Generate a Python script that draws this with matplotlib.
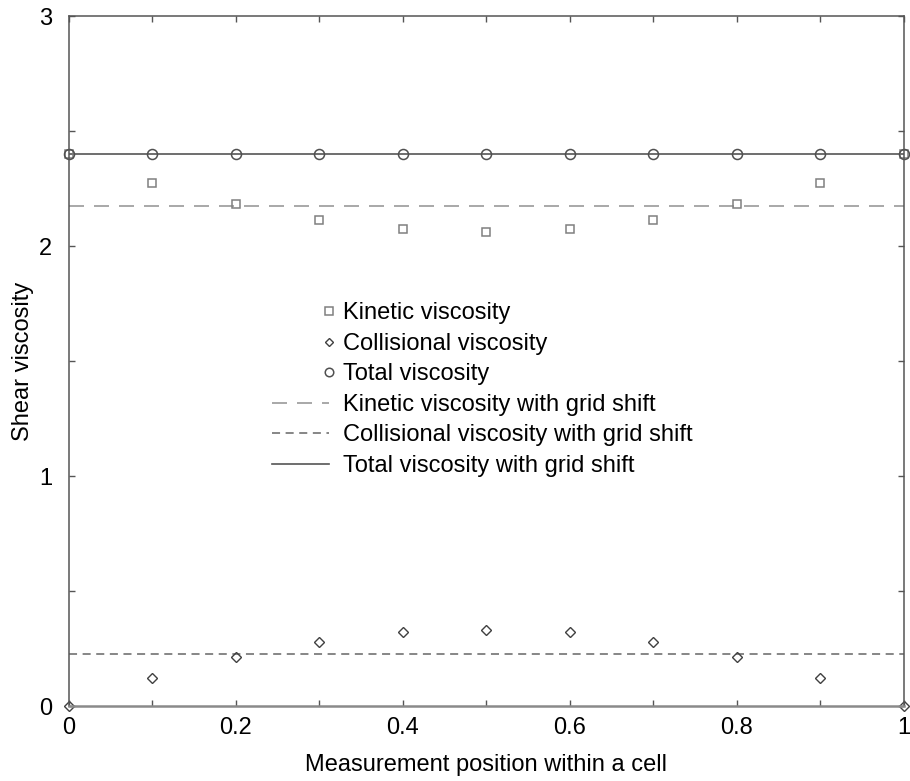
#!/usr/bin/env python3

import matplotlib
matplotlib.use('Agg')
import matplotlib.pyplot as plt
from matplotlib.legend_handler import HandlerLine2D
import numpy as np

plt.rcParams['font.family'] = ['Liberation Sans', 'DejaVu Sans']
plt.rcParams['font.size'] = 17
plt.rcParams['lines.scale_dashes'] = False

# measurement positions within a cell
position = [0.0, 0.1, 0.2, 0.3, 0.4, 0.5, 0.6, 0.7, 0.8, 0.9, 1.0]

kinetic = [2.40, 2.275, 2.183, 2.113, 2.074, 2.062, 2.074, 2.113, 2.183, 2.275, 2.40]
collisional = [0.0, 0.122, 0.213, 0.280, 0.320, 0.332, 0.320, 0.280, 0.213, 0.122, 0.0]
total = [2.40, 2.40, 2.40, 2.40, 2.40, 2.40, 2.40, 2.40, 2.40, 2.40, 2.40]

# grid shift values (constant over the cell)
kinetic_shift = 2.174
collisional_shift = 0.226
total_shift = 2.40

LABELS = [
    "Kinetic viscosity",
    "Collisional viscosity",
    "Total viscosity",
    "Kinetic viscosity with grid shift",
    "Collisional viscosity with grid shift",
    "Total viscosity with grid shift",
]

AXIS_GRAY = '#555555'


class RightMarkerHandler(HandlerLine2D):
    # gnuplot style: point sample sits at the right end of the key sample
    def get_numpoints(self, legend):
        return 2

    def get_xdata(self, legend, xdescent, ydescent, width, height, fontsize):
        xr = np.array([-xdescent + width])
        return xr, xr


fig = plt.figure(figsize=(9.10, 7.81), dpi=100)
ax = fig.add_axes([0.0758, 0.096, 0.9176, 0.8835])

x_line = [0, 1]

l_kin_shift, = ax.plot(x_line, [kinetic_shift] * 2, color='#999999', lw=1.2,
                       dashes=(10.8, 7.2), label=LABELS[3])
l_col_shift, = ax.plot(x_line, [collisional_shift] * 2, color='#666666', lw=1.1,
                       dashes=(5.8, 4.0), label=LABELS[4])
l_tot_shift, = ax.plot(x_line, [total_shift] * 2, color='#555555', lw=1.2,
                       label=LABELS[5])

p_kin, = ax.plot(position, kinetic, ls='none', marker='s', ms=6.0, mfc='none',
                 mec='#808080', mew=1.1, label=LABELS[0], clip_on=False)
p_col, = ax.plot(position, collisional, ls='none', marker='D', ms=5.0, mfc='none',
                 mec='#404040', mew=1.0, label=LABELS[1], clip_on=False)
p_tot, = ax.plot(position, total, ls='none', marker='o', ms=7.2, mfc='none',
                 mec='#505050', mew=1.1, label=LABELS[2], clip_on=False)

ax.set_xlim(0, 1)
ax.set_ylim(0, 3)
ax.set_xticks(np.arange(0, 1.01, 0.2))
ax.set_xticks(np.arange(0, 1.01, 0.1), minor=True)
ax.set_xticklabels(['0', '0.2', '0.4', '0.6', '0.8', '1'])
ax.set_yticks([0, 1, 2, 3])
ax.set_yticks(np.arange(0, 3.01, 0.5), minor=True)
ax.set_yticklabels(['0', '1', '2', '3'])

ax.tick_params(which='both', direction='in', top=True, right=True,
               length=4, width=1.0, color=AXIS_GRAY)
ax.tick_params(axis='x', which='major', pad=8)
ax.tick_params(axis='y', which='major', pad=12)
for sp in ax.spines.values():
    sp.set_color(AXIS_GRAY)
    sp.set_linewidth(1.1)
ax.spines['bottom'].set_color('#8a8a8a')
ax.spines['bottom'].set_linewidth(1.8)

ax.set_xlabel("Measurement position within a cell", labelpad=11)
ax.set_ylabel("Shear viscosity", labelpad=3.5)

small_markers = {
    p_kin: RightMarkerHandler(),
    p_col: RightMarkerHandler(),
    p_tot: RightMarkerHandler(),
}
leg = ax.legend([p_kin, p_col, p_tot, l_kin_shift, l_col_shift, l_tot_shift], LABELS,
                loc='upper left', bbox_to_anchor=(0.243, 0.585), frameon=False,
                borderpad=0, borderaxespad=0, handlelength=2.4, handletextpad=0.62,
                labelspacing=0.36, numpoints=1, markerscale=0.85,
                handler_map=small_markers)

fig.savefig('out.png', dpi=100)
